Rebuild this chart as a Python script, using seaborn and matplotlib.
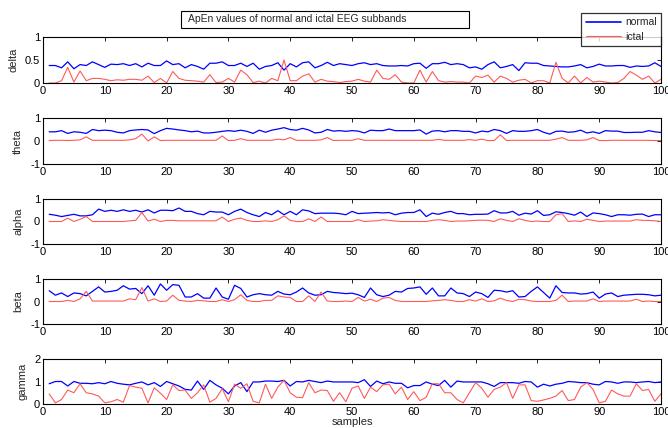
import matplotlib
matplotlib.use("Agg")
import matplotlib.pyplot as plt
import seaborn as sns
import pandas as pd
import numpy as np
from matplotlib.patches import Rectangle
from matplotlib.lines import Line2D

samples = list(range(1, 101))

delta_normal = [0.38,0.38,0.33,0.46,0.31,0.40,0.38,0.46,0.40,0.34,
                0.41,0.40,0.42,0.38,0.42,0.35,0.43,0.38,0.38,0.48,
                0.40,0.42,0.33,0.40,0.36,0.30,0.43,0.43,0.46,0.38,
                0.38,0.43,0.36,0.43,0.30,0.36,0.38,0.44,0.28,0.42,
                0.35,0.44,0.46,0.33,0.38,0.45,0.38,0.42,0.40,0.38,
                0.42,0.44,0.40,0.42,0.38,0.37,0.37,0.38,0.37,0.42,
                0.43,0.32,0.42,0.42,0.45,0.40,0.42,0.40,0.33,0.35,
                0.30,0.40,0.46,0.33,0.36,0.40,0.27,0.44,0.43,0.43,
                0.38,0.37,0.36,0.35,0.35,0.37,0.40,0.33,0.36,0.41,
                0.37,0.37,0.38,0.38,0.34,0.37,0.36,0.37,0.44,0.36]
delta_ictal = [0.00,0.00,0.05,0.34,0.02,0.26,0.05,0.10,0.10,0.08,
               0.05,0.07,0.06,0.08,0.08,0.06,0.15,0.01,0.10,0.00,
               0.25,0.10,0.06,0.05,0.04,0.02,0.18,0.01,0.02,0.10,
               0.02,0.28,0.18,0.01,0.04,0.00,0.10,0.05,0.50,0.05,
               0.05,0.15,0.20,0.02,0.08,0.04,0.03,0.01,0.03,0.04,
               0.08,0.04,0.02,0.28,0.10,0.08,0.18,0.02,0.00,0.00,
               0.28,0.02,0.25,0.05,0.02,0.03,0.02,0.02,0.00,0.15,
               0.12,0.17,0.02,0.15,0.10,0.02,0.06,0.08,0.00,0.05,
               0.05,0.00,0.45,0.10,0.00,0.15,0.00,0.12,0.02,0.04,
               0.02,0.00,0.01,0.10,0.25,0.17,0.08,0.15,0.00,0.08]
theta_normal = [0.40,0.40,0.45,0.33,0.40,0.38,0.33,0.50,0.45,0.47,
                0.45,0.38,0.35,0.45,0.48,0.50,0.48,0.32,0.45,0.55,
                0.52,0.48,0.45,0.40,0.43,0.35,0.35,0.38,0.42,0.45,
                0.42,0.47,0.42,0.33,0.47,0.38,0.47,0.52,0.58,0.50,
                0.47,0.55,0.48,0.35,0.38,0.50,0.43,0.45,0.42,0.45,
                0.43,0.35,0.47,0.45,0.45,0.52,0.45,0.45,0.45,0.45,
                0.48,0.30,0.43,0.45,0.40,0.45,0.45,0.42,0.42,0.35,
                0.43,0.40,0.50,0.45,0.33,0.45,0.42,0.42,0.45,0.50,
                0.38,0.30,0.42,0.43,0.38,0.40,0.47,0.35,0.40,0.33,
                0.45,0.43,0.43,0.37,0.37,0.38,0.38,0.45,0.40,0.37]
theta_ictal = [0.02,0.03,0.03,0.02,0.03,0.05,0.18,0.03,0.03,0.03,
               0.03,0.03,0.03,0.05,0.10,0.30,0.00,0.18,0.02,0.03,
               0.03,0.03,0.03,0.03,0.03,0.03,0.03,0.03,0.22,0.02,
               0.03,0.10,0.03,0.03,0.03,0.03,0.03,0.08,0.05,0.15,
               0.03,0.03,0.03,0.03,0.05,0.15,0.02,0.03,0.03,0.03,
               0.10,0.03,0.03,0.03,0.03,0.03,0.03,0.03,0.03,0.03,
               0.03,0.03,0.03,0.07,0.03,0.03,0.03,0.03,0.06,0.03,
               0.08,0.02,0.02,0.27,0.02,0.03,0.03,0.03,0.03,0.03,
               0.03,0.03,0.08,0.15,0.03,0.03,0.03,0.05,0.15,0.02,
               0.02,0.03,0.03,0.03,0.03,0.03,0.03,0.03,0.02,0.02]
alpha_normal = [0.32,0.28,0.22,0.27,0.32,0.25,0.25,0.30,0.55,0.45,
                0.50,0.45,0.52,0.45,0.50,0.42,0.52,0.38,0.50,0.50,
                0.48,0.60,0.45,0.45,0.35,0.30,0.45,0.42,0.42,0.30,
                0.45,0.55,0.40,0.30,0.22,0.40,0.30,0.48,0.30,0.45,
                0.30,0.52,0.47,0.35,0.37,0.37,0.37,0.35,0.30,0.45,
                0.35,0.37,0.38,0.40,0.38,0.40,0.30,0.37,0.40,0.40,
                0.52,0.22,0.37,0.32,0.40,0.45,0.35,0.35,0.30,0.32,
                0.32,0.33,0.48,0.38,0.38,0.45,0.28,0.37,0.33,0.48,
                0.27,0.30,0.43,0.40,0.35,0.28,0.42,0.22,0.38,0.35,
                0.30,0.22,0.30,0.30,0.28,0.32,0.33,0.22,0.30,0.30]
alpha_ictal = [0.00,0.00,0.00,0.15,0.00,0.10,0.22,0.00,0.00,0.00,
               0.00,0.00,0.00,0.03,0.05,0.40,0.02,0.10,0.00,0.05,
               0.05,0.03,0.03,0.03,0.03,0.03,0.03,0.03,0.20,0.00,
               0.10,0.15,0.05,0.00,0.00,0.03,0.00,0.08,0.25,0.05,
               0.00,0.00,0.12,0.00,0.20,0.00,0.00,0.00,0.00,0.00,
               0.08,0.00,0.02,0.03,0.08,0.05,0.02,0.00,0.00,0.00,
               0.00,0.00,0.05,0.08,0.05,0.00,0.02,0.02,0.03,0.05,
               0.06,0.05,0.00,0.12,0.05,0.00,0.12,0.05,0.00,0.02,
               0.00,0.00,0.30,0.35,0.00,0.03,0.00,0.10,0.05,0.00,
               0.02,0.02,0.02,0.02,0.02,0.08,0.05,0.05,0.03,0.00]
beta_normal = [0.48,0.28,0.38,0.22,0.38,0.35,0.25,0.45,0.65,0.42,
               0.45,0.50,0.70,0.55,0.58,0.35,0.70,0.28,0.78,0.50,
               0.75,0.72,0.20,0.20,0.35,0.15,0.15,0.60,0.20,0.10,
               0.72,0.58,0.20,0.30,0.35,0.30,0.28,0.45,0.33,0.30,
               0.42,0.60,0.38,0.28,0.30,0.45,0.40,0.38,0.35,0.37,
               0.30,0.18,0.60,0.30,0.22,0.28,0.45,0.42,0.58,0.60,
               0.65,0.32,0.60,0.25,0.25,0.60,0.38,0.35,0.22,0.42,
               0.35,0.18,0.50,0.48,0.42,0.48,0.20,0.22,0.45,0.65,
               0.40,0.15,0.70,0.40,0.38,0.38,0.33,0.35,0.42,0.15,
               0.33,0.38,0.22,0.28,0.30,0.32,0.32,0.30,0.25,0.28]
beta_ictal = [0.00,0.00,0.00,0.05,0.00,0.12,0.45,0.02,0.02,0.02,
              0.02,0.02,0.02,0.12,0.08,0.62,0.02,0.12,0.00,0.02,
              0.28,0.05,0.02,0.00,0.05,0.03,0.00,0.00,0.08,0.00,
              0.08,0.30,0.05,0.00,0.00,0.05,0.05,0.25,0.20,0.18,
              0.00,0.00,0.25,0.00,0.42,0.02,0.00,0.00,0.02,0.00,
              0.18,0.02,0.10,0.00,0.15,0.18,0.05,0.00,0.00,0.00,
              0.00,0.00,0.03,0.05,0.08,0.05,0.00,0.00,0.08,0.02,
              0.12,0.00,0.03,0.15,0.05,0.00,0.10,0.08,0.02,0.00,
              0.00,0.00,0.05,0.28,0.00,0.02,0.02,0.02,0.12,0.00,
              0.02,0.02,0.02,0.02,0.02,0.10,0.00,0.02,0.00,0.00]
gamma_normal = [0.90,1.00,1.00,0.80,1.00,0.92,0.92,0.90,0.95,0.90,
                1.00,0.92,0.88,0.85,0.92,0.98,0.85,0.95,0.78,1.00,
                0.90,0.80,0.65,0.62,1.02,0.65,1.05,0.85,0.70,0.45,
                0.80,0.95,0.55,0.98,0.98,1.02,1.02,1.00,1.05,0.80,
                1.00,0.98,1.05,1.00,0.95,1.02,0.98,0.98,0.98,0.98,
                0.95,1.08,0.78,1.02,0.90,0.98,0.92,0.92,0.72,0.82,
                0.82,0.98,0.88,0.82,1.05,0.75,1.02,0.98,0.98,0.98,
                0.98,0.90,0.78,0.95,0.95,0.95,0.92,1.00,0.98,0.75,
                0.88,0.80,0.88,0.92,1.00,0.98,0.95,0.95,0.88,0.85,
                1.00,0.98,0.92,0.98,0.98,0.95,0.98,1.00,0.95,0.98]
gamma_ictal = [0.45,0.05,0.20,0.62,0.50,0.90,0.50,0.45,0.35,0.05,
               0.10,0.20,0.08,0.82,0.75,0.70,0.05,0.72,0.48,0.20,
               0.85,0.60,0.62,0.25,0.50,0.85,0.08,0.25,0.68,0.10,
               0.88,0.70,0.90,0.12,0.05,0.88,0.25,0.75,1.05,0.50,
               0.30,0.28,0.95,0.50,0.62,0.60,0.12,0.50,0.10,0.70,
               0.80,0.25,0.75,0.55,0.85,0.88,0.45,0.75,0.20,0.55,
               0.15,0.30,0.90,0.90,0.50,0.50,0.20,0.05,0.50,0.95,
               0.70,0.30,0.65,0.75,0.95,0.25,0.85,0.85,0.15,0.12,
               0.18,0.25,0.35,0.60,0.15,0.20,0.75,0.95,0.65,0.05,
               0.12,0.62,0.45,0.35,0.35,0.90,0.60,0.65,0.12,0.45]

bands = ["delta", "theta", "alpha", "beta", "gamma"]
normal_series = [delta_normal, theta_normal, alpha_normal, beta_normal, gamma_normal]
ictal_series = [delta_ictal, theta_ictal, alpha_ictal, beta_ictal, gamma_ictal]
ylims = [(0, 1), (-1, 1), (-1, 1), (-1, 1), (0, 2)]
yticks = [[0, 0.5, 1], [-1, 0, 1], [-1, 0, 1], [-1, 0, 1], [0, 1, 2]]
ytick_labels = [["0", "0.5", "1"], ["-1", "0", "1"], ["-1", "0", "1"], ["-1", "0", "1"], ["0", "1", "2"]]
xticks = list(range(0, 101, 10))
title_text = "ApEn values of normal and ictal EEG subbands"
series_names = ["normal", "ictal"]

sns.set_theme(style="white")
plt.rcParams['font.family'] = ['Liberation Sans', 'DejaVu Sans']

BLUE = "#0000ff"
RED = "#ff5a5a"

fig = plt.figure(figsize=(6.68, 4.28), dpi=100)
W, H = 668, 428
left, right = 43, 661
tops = [37, 118, 199, 279, 359]
bots = [83, 164, 244, 324, 404]

for i, band in enumerate(bands):
    ax = fig.add_axes([left / W, 1 - bots[i] / H, (right - left) / W, (bots[i] - tops[i]) / H])
    df = pd.DataFrame({"samples": samples, "normal": normal_series[i], "ictal": ictal_series[i]})
    sns.lineplot(data=df, x="samples", y="normal", ax=ax, color=BLUE, lw=0.9)
    sns.lineplot(data=df, x="samples", y="ictal", ax=ax, color=RED, lw=0.8)
    ax.set_xlim(0, 100)
    ax.set_ylim(*ylims[i])
    ax.set_yticks(yticks[i])
    ax.set_yticklabels(ytick_labels[i])
    ax.set_xticks(xticks)
    ax.set_xticklabels([str(t) for t in xticks])
    ax.tick_params(direction="in", top=True, right=True, length=3, width=0.6,
                   labelsize=8, pad=2, colors="black")
    for sp in ax.spines.values():
        sp.set_color("black")
        sp.set_linewidth(0.8)
    ax.set_ylabel(band, fontsize=8, labelpad=5)
    ax.set_xlabel("samples" if i == 4 else "", fontsize=8, labelpad=0)
    if ax.get_legend() is not None:
        ax.get_legend().remove()

# title text box
fig.patches.append(Rectangle((181 / W, 1 - 28 / H), (469 - 181) / W, 17 / H,
                             transform=fig.transFigure, fill=True, facecolor="white",
                             edgecolor="black", lw=0.8))
fig.text(188 / W, 1 - 19.5 / H, title_text, fontsize=7.5, ha="left", va="center")

# legend box
handles = [Line2D([0], [0], color=BLUE, lw=1.2), Line2D([0], [0], color=RED, lw=0.8)]
leg = fig.legend(handles, series_names, loc="upper right",
                 bbox_to_anchor=(661 / W, 1 - 13 / H), fontsize=7.5, frameon=True,
                 fancybox=False, handlelength=3.4, borderpad=0.4, labelspacing=0.45,
                 handletextpad=0.4, borderaxespad=0)
leg.get_frame().set_edgecolor("black")
leg.get_frame().set_linewidth(0.9)

fig.savefig("out.png", dpi=100)
